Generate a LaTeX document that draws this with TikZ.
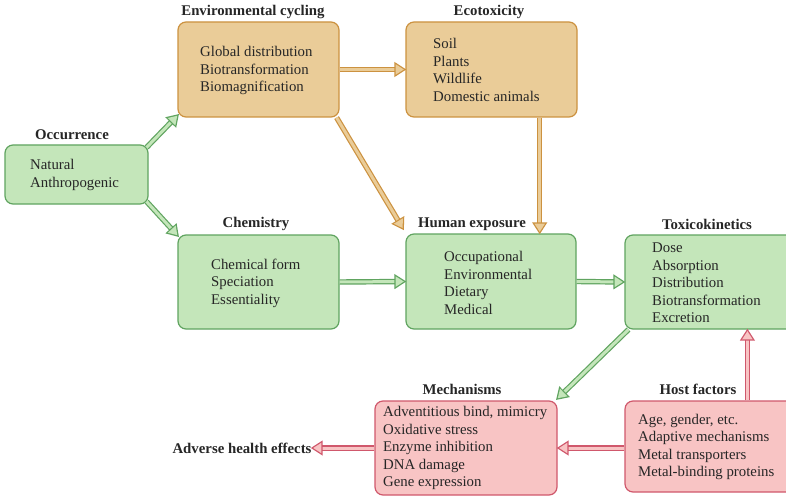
\documentclass[tikz,border=0pt]{standalone}
\usepackage{fontspec}
\setmainfont{Liberation Serif}
\usetikzlibrary{calc,decorations.markings}
\definecolor{gfill}{RGB}{196,230,186}
\definecolor{gdraw}{RGB}{96,164,96}
\definecolor{ofill}{RGB}{234,204,152}
\definecolor{odraw}{RGB}{204,146,64}
\definecolor{rfill}{RGB}{248,196,196}
\definecolor{rdraw}{RGB}{208,88,108}
\tikzset{
  boxbase/.style={rectangle, rounded corners=8pt, line width=1.2pt, inner sep=0pt},
  gbox/.style={boxbase, draw=gdraw, fill=gfill},
  obox/.style={boxbase, draw=odraw, fill=ofill},
  rbox/.style={boxbase, draw=rdraw, fill=rfill},
  body/.style={anchor=west, align=left, inner sep=0pt, font=\fontsize{14.8}{17.5}\selectfont, text=black!85},
  lbl/.style={inner sep=0pt, font=\fontsize{14.8}{17}\selectfont\bfseries, text=black!85},
  dblarrow/.style 2 args={line width=1.2pt, double distance=3pt, draw=#1, double=#2, shorten >=10pt,
    postaction={decorate, decoration={markings, mark=at position 1 with {
      \fill[#1] (0.8pt,0pt) -- (-11pt,7.6pt) -- (-11pt,-7.6pt) -- cycle;
      \fill[#2] (-1.6pt,0pt) -- (-9.8pt,5.3pt) -- (-9.8pt,-5.3pt) -- cycle;
    }}}},
  garr/.style={dblarrow={gdraw}{gfill}},
  oarr/.style={dblarrow={odraw}{ofill}},
  rarr/.style={dblarrow={rdraw}{rfill}},
}
\begin{document}
\begin{tikzpicture}[x=1pt,y=-1pt]
\useasboundingbox (0,0) rectangle (786,497);
\clip (0,0) rectangle (786,497);
\fill[white] (0,0) rectangle (786,497);

% boxes
\node[gbox, minimum width=143pt, minimum height=59pt] (occ) at (76.5,174.5) {};
\node[obox, minimum width=161pt, minimum height=95pt] (env) at (258.5,69.5) {};
\node[obox, minimum width=171pt, minimum height=95pt] (eco) at (491.5,69.5) {};
\node[gbox, minimum width=161pt, minimum height=94pt] (chem) at (258.5,282) {};
\node[gbox, minimum width=170pt, minimum height=95pt] (hum) at (491,281.5) {};
\node[gbox, minimum width=175pt, minimum height=94pt] (tox) at (712.5,282) {};
\node[rbox, minimum width=182pt, minimum height=94pt] (mech) at (466,448) {};
\node[rbox, minimum width=175pt, minimum height=91pt] (host) at (712.5,446.5) {};

% labels
\node[lbl] (occ-l) at (72,135) {Occurrence};
\node[lbl] (env-l) at (253,12) {Environmental cycling};
\node[lbl] (eco-l) at (489,12) {Ecotoxicity};
\node[lbl] (chem-l) at (256,224) {Chemistry};
\node[lbl] (hum-l) at (472,224) {Human exposure};
\node[lbl] (tox-l) at (707,224) {Toxicokinetics};
\node[lbl] (mech-l) at (462,389) {Mechanisms};
\node[lbl] (host-l) at (698,389) {Host factors};
\node[lbl] (adv) at (242,448) {Adverse health effects};

% body texts
\node[body] (occ-t) at (30,175) {Natural\\Anthropogenic};
\node[body] (env-t) at (200,70.5) {Global distribution\\Biotransformation\\Biomagnification};
\node[body] (eco-t) at (433,70) {Soil\\Plants\\Wildlife\\Domestic animals};
\node[body] (chem-t) at (211,283) {Chemical form\\Speciation\\Essentiality};
\node[body] (hum-t) at (444,283) {Occupational\\Environmental\\Dietary\\Medical};
\node[body] (tox-t) at (652,283) {Dose\\Absorption\\Distribution\\Biotransformation\\Excretion};
\node[body] (mech-t) at (383,448) {Adventitious bind, mimicry\\Oxidative stress\\Enzyme inhibition\\DNA damage\\Gene expression};
\node[body] (host-t) at (638,447) {Age, gender, etc.\\Adaptive mechanisms\\Metal transporters\\Metal-binding proteins};

% connectors
\draw[garr] ($(occ.north east)+(-2,3)$) -- ($(env.south west)+(1,-3)$);
\draw[garr] ($(occ.south east)+(-2,-3)$) -- ($(chem.north west)+(1,2)$);
\draw[oarr] (env.east) -- (eco.west);
\draw[oarr] ($(env.south east)+(-3,0)$) -- ($(hum.north west)+(-2,-4)$);
\coordinate (ecoS) at ($(eco.south west)!0.78!(eco.south east)$);
\draw[oarr] (ecoS) -- (ecoS |- hum.north);
\draw[garr] (chem.east) -- (hum.west);
\draw[garr] (hum.east) -- (tox.west);
\draw[garr] ($(tox.south west)+(4,0)$) -- ($(mech.north east)+(-1,-1)$);
\coordinate (hostN) at ($(host.north west)+(123,0)$);
\draw[rarr] (hostN) -- (hostN |- tox.south);
\draw[rarr] (host.west |- mech.east) -- (mech.east);
\draw[rarr] (mech.west) -- (adv.east);
\end{tikzpicture}
\end{document}
